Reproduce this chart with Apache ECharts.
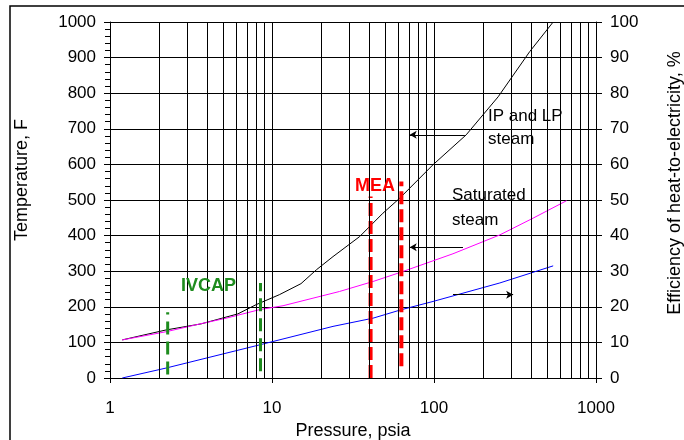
<!DOCTYPE html>
<html lang="en">
<head>
    <meta charset="UTF-8">
    <title>Steam temperature and efficiency</title>
    <script src="https://cdn.jsdelivr.net/npm/echarts@6/dist/echarts.min.js"></script>
    <style>
        body { margin: 0; background: #fff; }
    </style>
</head>
<body>
<div id="main" style="width:684px; height:440px;"></div>
</body>
<script type="text/javascript">

    // pressure (psia) / temperature (F)
    let ipLpPressure = [1.19, 2.22, 3.65, 6.15, 7.98, 11.1, 15.1, 18.8, 23.8, 34.7, 48.4, 61.4, 98.6, 158, 249, 390, 544];
    let ipLpTemp     = [107, 135, 152, 180, 206, 234, 265, 304, 341, 397, 463, 505, 599, 683, 790, 917, 1000];

    let satPressure = [1.19, 2.22, 3.6, 5.21, 8.37, 11.7, 26.1, 42, 61.4, 131, 255, 409, 658];
    let satTemp     = [107, 130, 152, 168, 192, 203, 243, 271, 296, 349, 402, 449, 498];

    // efficiency (%) on the right axis
    let effPressure = [1.19, 2.22, 8.37, 23.8, 42, 63, 98.6, 255, 544];
    let effValue    = [0, 2.8, 9.3, 14.5, 16.8, 19.2, 21.5, 26.7, 31.5];

    // dashed process markers: [pressure, tempLow, tempHigh]
    let ivcapLines = [[2.27, 10, 185], [8.49, 19, 267]];
    let meaLines   = [[40.6, 0, 510], [62.9, 33, 552]];

    // arrows: [fromP, toP, temperature]
    let arrows = [[155, 70.8, 683], [151, 70.8, 367], [131, 308, 234]];

    // log minor grid
    let minorGrid = [2, 3, 4, 5, 6, 7, 8, 9, 20, 30, 40, 50, 60, 70, 80, 90, 200, 300, 400, 500, 600, 700, 800, 900];

    let xTicks = [1, 10, 100, 1000];
    let tempTicks = [0, 1000, 100];
    let effTicks = [0, 100, 10];

    function pairs(xs, ys) {
        return xs.map(function (x, i) { return [x, ys[i]]; });
    }

    function plain(v) { return String(v); }

    let font = 'Liberation Sans, Arial, sans-serif';
    let gridColor = '#000';

    let myChart = echarts.init(document.getElementById('main'));

    let series = [];

    // minor vertical grid lines
    series.push({
        type: 'line',
        data: [],
        silent: true,
        z: 1,
        markLine: {
            silent: true,
            symbol: 'none',
            animation: false,
            label: { show: false },
            lineStyle: { color: gridColor, width: 1, type: 'solid' },
            data: minorGrid.map(function (v) { return { xAxis: v }; })
        }
    });

    series.push({
        name: 'IP and LP steam',
        type: 'line',
        data: pairs(ipLpPressure, ipLpTemp),
        showSymbol: false,
        lineStyle: { color: '#000', width: 1 },
        z: 3
    });
    series.push({
        name: 'Saturated steam',
        type: 'line',
        data: pairs(satPressure, satTemp),
        showSymbol: false,
        lineStyle: { color: '#ff00ff', width: 1 },
        z: 3
    });
    series.push({
        name: 'Efficiency',
        type: 'line',
        yAxisIndex: 1,
        data: pairs(effPressure, effValue),
        showSymbol: false,
        lineStyle: { color: '#0000ff', width: 1 },
        z: 3
    });

    ivcapLines.forEach(function (d) {
        series.push({
            type: 'line',
            data: [[d[0], d[1]], [d[0], d[2]]],
            showSymbol: false,
            lineStyle: { color: '#1e8c1e', width: 3, type: [13, 7] },
            z: 4
        });
    });
    meaLines.forEach(function (d) {
        series.push({
            type: 'line',
            data: [[d[0], d[1]], [d[0], d[2]]],
            showSymbol: false,
            lineStyle: { color: '#ff0000', width: 4, type: [13, 5] },
            z: 4
        });
    });

    // arrows
    series.push({
        type: 'line',
        data: [],
        z: 5,
        markLine: {
            silent: true,
            animation: false,
            symbol: ['none', 'arrow'],
            symbolSize: [6, 7],
            label: { show: false },
            lineStyle: { color: '#000', width: 1, type: 'solid' },
            data: arrows.map(function (a) {
                return [{ coord: [a[0], a[2]] }, { coord: [a[1], a[2]] }];
            })
        }
    });

    let option = {
        animation: false,
        textStyle: { fontFamily: font },
        grid: { left: 110, right: 88, top: 22, bottom: 62, outerBoundsMode: 'none' },
        xAxis: {
            type: 'log',
            logBase: 10,
            min: xTicks[0],
            max: xTicks[xTicks.length - 1],
            name: 'Pressure, psia',
            nameLocation: 'middle',
            nameGap: 41,
            nameTextStyle: { color: '#000', fontSize: 18, fontFamily: font },
            axisLine: { lineStyle: { color: '#000', width: 1 } },
            axisTick: { show: true, length: 5, lineStyle: { color: '#000' } },
            axisLabel: { color: '#000', fontSize: 17, margin: 22, fontFamily: font, formatter: plain },
            splitLine: { show: true, lineStyle: { color: gridColor, width: 1 } }
        },
        yAxis: [{
            type: 'value',
            min: tempTicks[0],
            max: tempTicks[1],
            interval: tempTicks[2],
            axisLine: { show: true, lineStyle: { color: '#000', width: 1 } },
            axisTick: { show: true, length: 6, lineStyle: { color: '#000' } },
            minorTick: { show: true, splitNumber: 5, length: 5, lineStyle: { color: '#000' } },
            axisLabel: { color: '#000', fontSize: 17, margin: 14, fontFamily: font, formatter: plain },
            splitLine: { show: true, lineStyle: { color: gridColor, width: 1 } }
        }, {
            type: 'value',
            min: effTicks[0],
            max: effTicks[1],
            interval: effTicks[2],
            axisLine: { show: true, lineStyle: { color: '#000', width: 1 } },
            axisTick: { show: true, length: 6, lineStyle: { color: '#000' } },
            axisLabel: { color: '#000', fontSize: 17, margin: 14, fontFamily: font, formatter: plain },
            splitLine: { show: false }
        }],
        series: series,
        graphic: [
            {
                type: 'rect',
                shape: { x: 10, y: 6, width: 700, height: 460 },
                style: { fill: 'none', stroke: '#000', lineWidth: 1.5 },
                silent: true
            },
            {
                type: 'text', x: 22, y: 180, rotation: Math.PI / 2, z: 10,
                style: { text: 'Temperature, F', font: '18px ' + font, fill: '#000', align: 'center', verticalAlign: 'middle' }
            },
            {
                type: 'text', x: 675, y: 183, rotation: Math.PI / 2, z: 10,
                style: { text: 'Efficiency of heat-to-electricity, %', font: '18px ' + font, fill: '#000', align: 'center', verticalAlign: 'middle' }
            },
            {
                type: 'text', left: 488, top: 105, z: 10,
                style: { text: 'IP and LP\nsteam', font: '17px ' + font, fill: '#000', lineHeight: 23 }
            },
            {
                type: 'text', left: 452, top: 183, z: 10,
                style: { text: 'Saturated\nsteam', font: '17px ' + font, fill: '#000', lineHeight: 25 }
            },
            {
                type: 'text', left: 355, top: 177, z: 10,
                style: { text: 'MEA', font: 'bold 18px ' + font, fill: '#ff0000' }
            },
            {
                type: 'text', left: 181, top: 277, z: 10,
                style: { text: 'IVCAP', font: 'bold 18px ' + font, fill: '#1e8c1e' }
            }
        ]
    };

    myChart.setOption(option);
</script>
</html>
